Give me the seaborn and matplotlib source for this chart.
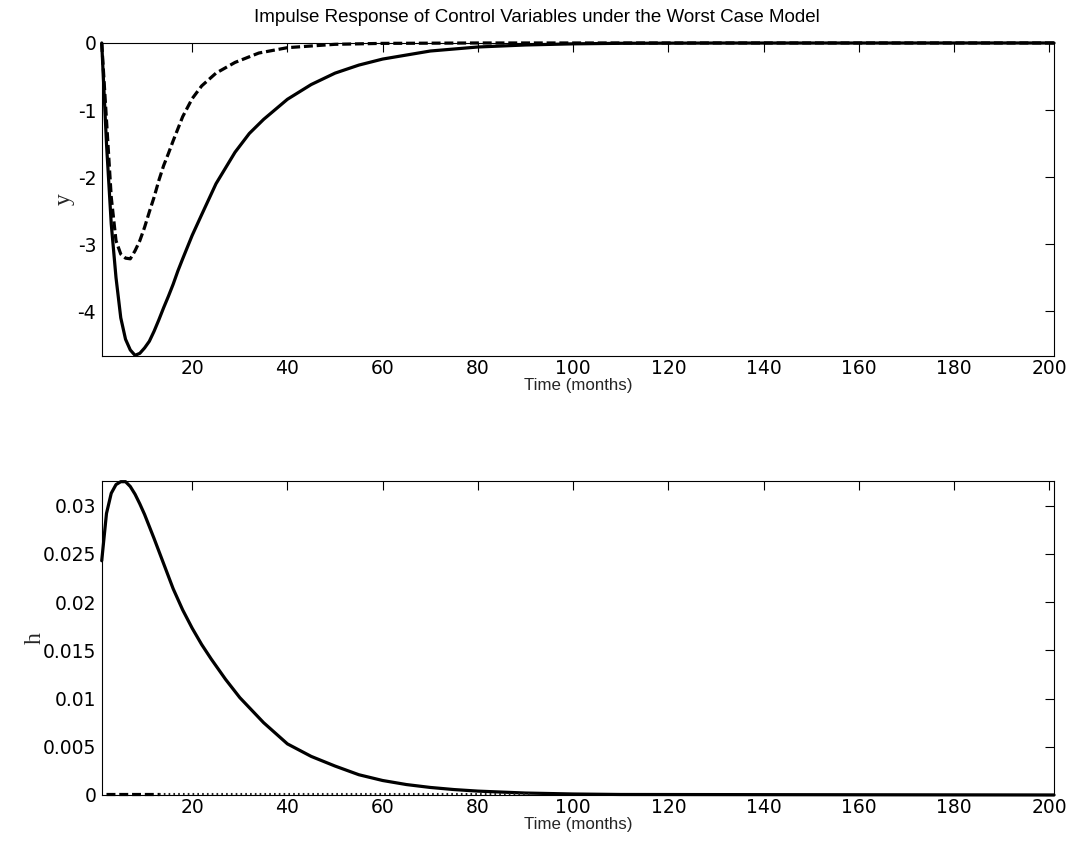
import numpy as np
import pandas as pd
import matplotlib
matplotlib.use("Agg")
import matplotlib.pyplot as plt
import seaborn as sns
from matplotlib.ticker import FuncFormatter

# ---------------- data ----------------
title = "Impulse Response of Control Variables under the Worst Case Model"
xlabel = "Time (months)"

y_solid_t = [1, 2, 3, 4, 5, 6, 7, 8, 9, 10, 11, 12, 13, 14, 15, 16, 17, 18, 20, 22, 25,
             29, 32, 35, 40, 45, 50, 55, 60, 70, 80, 90, 100, 110, 130, 201]
y_solid = [0.0, -1.5, -2.7, -3.5, -4.1, -4.42, -4.58, -4.66, -4.63, -4.55, -4.45, -4.3,
           -4.13, -3.95, -3.78, -3.6, -3.4, -3.22, -2.87, -2.56, -2.1, -1.63, -1.35,
           -1.14, -0.84, -0.62, -0.45, -0.33, -0.24, -0.12, -0.06, -0.03, -0.013,
           -0.005, -0.001, 0.0]

y_dash_t = [1, 2, 3, 4, 5, 6, 7, 8, 9, 10, 11, 12, 13, 14, 15, 16, 17, 18, 20, 22, 25,
            29, 34, 40, 50, 60, 80, 201]
y_dash = [0.0, -1.15, -2.3, -2.95, -3.15, -3.21, -3.22, -3.1, -2.95, -2.75, -2.52,
          -2.3, -2.05, -1.83, -1.65, -1.46, -1.28, -1.1, -0.83, -0.64, -0.45, -0.29,
          -0.15, -0.07, -0.02, -0.006, 0.0, 0.0]

h_solid_t = [1, 2, 3, 4, 5, 6, 7, 8, 9, 10, 12, 14, 16, 18, 20, 22, 24, 27, 30, 35, 40,
             45, 50, 55, 60, 65, 70, 75, 80, 90, 100, 110, 201]
h_solid = [0.0243, 0.0292, 0.0313, 0.0322, 0.0325, 0.0325, 0.0320, 0.0312, 0.0302,
           0.0291, 0.0266, 0.0240, 0.0214, 0.0192, 0.0173, 0.0156, 0.0141, 0.0120,
           0.0101, 0.0075, 0.0053, 0.0040, 0.0030, 0.0021, 0.0015, 0.00108, 0.00078,
           0.00056, 0.0004, 0.0002, 0.0001, 0.00005, 0.0]

h_dash_t = [2, 13]
h_dash = [0.00015, 0.00015]

h_dot_t = [13, 91]
h_dot = [0.00005, 0.00005]

x_ticks = [20, 40, 60, 80, 100, 120, 140, 160, 180, 200]
y_ticks_top = [0, -1, -2, -3, -4]
y_ticks_bot = [0, 0.005, 0.01, 0.015, 0.02, 0.025, 0.03]

# ---------------- styling ----------------
sns.set_style("white")
plt.rcParams["font.family"] = ["Liberation Sans", "DejaVu Sans"]

fig = plt.figure(figsize=(10.73, 8.56), dpi=100)
ax1 = fig.add_axes([0.0948, 0.5841, 0.8875, 0.3657])
ax2 = fig.add_axes([0.0948, 0.0713, 0.8875, 0.3671])

LW = 2.3
DASH = (0, (2.8, 1.2))

sns.lineplot(x=y_solid_t, y=y_solid, ax=ax1, color="black", lw=LW,
             estimator=None, sort=False, clip_on=False)
sns.lineplot(x=y_dash_t, y=y_dash, ax=ax1, color="black", lw=LW, linestyle=DASH,
             estimator=None, sort=False, clip_on=False)

sns.lineplot(x=h_solid_t, y=h_solid, ax=ax2, color="black", lw=LW,
             estimator=None, sort=False, clip_on=False)
sns.lineplot(x=h_dash_t, y=h_dash, ax=ax2, color="black", lw=LW, linestyle=DASH,
             estimator=None, sort=False, clip_on=False)
sns.lineplot(x=h_dot_t, y=h_dot, ax=ax2, color="#222222", lw=1.5, linestyle=(0, (0.8, 1.5)),
             estimator=None, sort=False, clip_on=False)

fmt = FuncFormatter(lambda v, p: ("%g" % round(v, 6)))

for ax in (ax1, ax2):
    ax.set_xlim(1, 201)
    ax.set_xticks(x_ticks)
    ax.xaxis.set_major_formatter(fmt)
    ax.yaxis.set_major_formatter(fmt)
    ax.tick_params(direction="in", length=6.5, width=0.8, top=True, right=True,
                   colors="black", pad=4)
    ax.tick_params(axis="x", pad=2.5)
    for s in ax.spines.values():
        s.set_visible(True)
        s.set_color("black")
        s.set_linewidth(0.8)
    ax.set_xlabel(xlabel, fontsize=12.2, labelpad=0)
    ax.grid(False)

ax1.set_ylim(-4.67, 0)
ax1.set_yticks(y_ticks_top)
ax2.set_ylim(0, 0.0326)
ax2.set_yticks(y_ticks_bot)

for ax in (ax1, ax2):
    for lab in ax.get_xticklabels() + ax.get_yticklabels():
        lab.set_fontfamily(["DejaVu Sans"])
        lab.set_fontsize(13.5)

ax1.set_ylabel("y", fontsize=17, family=["Liberation Serif", "DejaVu Serif"], labelpad=2)
ax2.set_ylabel("h", fontsize=17, family=["Liberation Serif", "DejaVu Serif"], labelpad=-2)
fig.text(0.5, 1 - 18 / 856, title, fontsize=13.5, ha="center", va="center", color="black")

fig.savefig("out.png", dpi=100, facecolor="white")
